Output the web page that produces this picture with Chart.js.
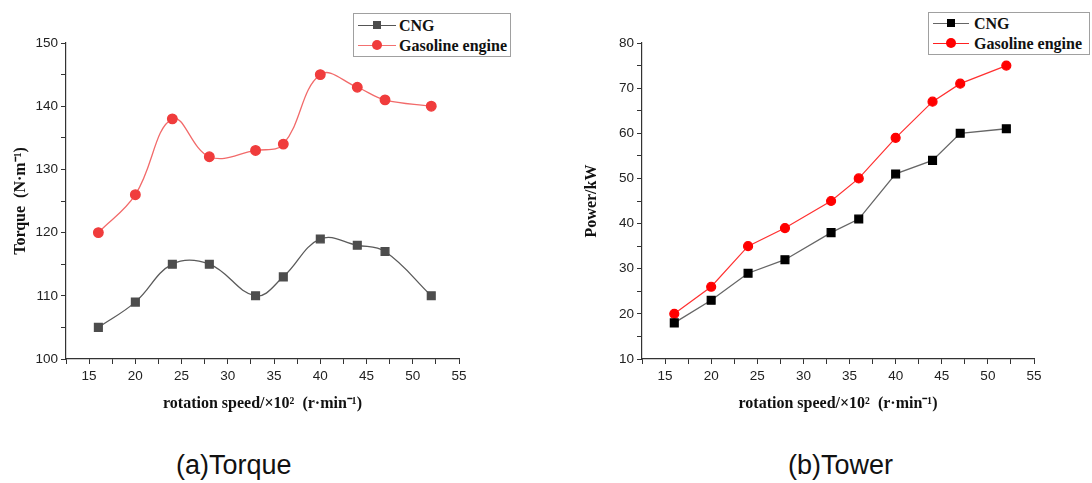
<!DOCTYPE html>
<html>
<head>
<meta charset="utf-8">
<script src="https://cdn.jsdelivr.net/npm/chart.js@4.4.1/dist/chart.umd.min.js"></script>
<style>
    body { margin: 0; background: #fff; width: 1092px; height: 483px; overflow: hidden; position: relative; font-family: "Liberation Sans", Arial, sans-serif; }
    .chart-box { position: absolute; top: 0; height: 420px; }
    .legend { position: absolute; box-sizing: border-box; border: 1px solid #a0a0a0; background: #fff; font-family: "Liberation Serif", "Times New Roman", serif; font-weight: bold; font-size: 16px; color: #111; }
    .legend .row { position: absolute; left: 0; height: 20px; width: 100%; }
    .legend .ln { position: absolute; top: 9px; height: 1px; }
    .legend .mk { position: absolute; }
    .legend .tx { position: absolute; top: 0; line-height: 20px; }
    .caption { position: absolute; top: 450px; font-size: 27px; color: #111; }
</style>
</head>
<body>
<div class="chart-box" style="left:0; width:540px;"><canvas id="torqueChart"></canvas></div>
<div class="chart-box" style="left:560px; width:532px;"><canvas id="powerChart"></canvas></div>

<div class="legend" style="left:353px; top:13px; width:158px; height:44px;">
    <div class="row" style="top:2px;">
        <div class="ln" style="left:4px; width:38px; background:#555;"></div>
        <div class="mk" style="left:19px; top:5px; width:8px; height:8px; background:#4d4d4d;"></div>
        <div class="tx" style="left:45px;">CNG</div>
    </div>
    <div class="row" style="top:22px;">
        <div class="ln" style="left:4px; width:38px; background:#f27070;"></div>
        <div class="mk" style="left:18px; top:4px; width:10px; height:10px; border-radius:50%; background:#f03c3c;"></div>
        <div class="tx" style="left:45px;">Gasoline engine</div>
    </div>
</div>

<div class="legend" style="left:928px; top:12px; width:162px; height:43px;">
    <div class="row" style="top:1px;">
        <div class="ln" style="left:4px; width:36px; background:#666;"></div>
        <div class="mk" style="left:18px; top:5px; width:8px; height:8px; background:#000;"></div>
        <div class="tx" style="left:45px;">CNG</div>
    </div>
    <div class="row" style="top:21px;">
        <div class="ln" style="left:4px; width:36px; background:#ff2020;"></div>
        <div class="mk" style="left:17px; top:4px; width:10px; height:10px; border-radius:50%; background:#ff0000;"></div>
        <div class="tx" style="left:45px;">Gasoline engine</div>
    </div>
</div>

<div class="caption" style="left:176px;">(a)Torque</div>
<div class="caption" style="left:788px;">(b)Tower</div>

<script>
// rotation speed (x10^2 r/min)
const speeds = [16, 20, 24, 28, 33, 36, 40, 44, 47, 52];

// torque (N·m)
const torqueCNG = [105, 109, 115, 115, 110, 113, 119, 118, 117, 110];
const torqueGasoline = [120, 126, 138, 132, 133, 134, 145, 143, 141, 140];

// power (kW)
const powerCNG = [18, 23, 29, 32, 38, 41, 51, 54, 60, 61];
const powerGasoline = [20, 26, 35, 39, 45, 50, 59, 67, 71, 75];

const xTitle = 'rotation speed/×10²  (r·min⁻¹)';

function toPoints(ys) {
    return speeds.map((x, i) => ({ x: x, y: ys[i] }));
}

const tickFont = { family: '"Liberation Sans", Arial, sans-serif', size: 13.5 };
const titleFont = { family: '"Liberation Serif", "Times New Roman", serif', size: 16, weight: 'bold' };

function axisGrid() {
    return { display: true, drawOnChartArea: false, drawTicks: true, tickLength: 5, color: '#333', tickColor: '#333' };
}

function buildOptions(yMin, yMax, yTitle, yWidth, padLeft, padRight) {
    return {
        responsive: true,
        maintainAspectRatio: false,
        animation: false,
        layout: { padding: { left: padLeft, right: padRight, top: 43, bottom: 7 } },
        plugins: { legend: { display: false }, tooltip: { enabled: false } },
        scales: {
            x: {
                type: 'linear',
                min: 12.5,
                max: 55,
                grid: axisGrid(),
                border: { display: true, color: '#333', width: 1.2 },
                ticks: {
                    stepSize: 2.5, autoSkip: false, maxRotation: 0, padding: 4,
                    color: '#222', font: tickFont,
                    callback: v => (v % 5 === 0 ? v : '')
                },
                title: { display: true, text: xTitle, color: '#111', font: titleFont, padding: 0 },
                afterFit: s => { s.height = 54; }
            },
            y: {
                min: yMin,
                max: yMax,
                grid: axisGrid(),
                border: { display: true, color: '#333', width: 1.2 },
                ticks: {
                    stepSize: 5, autoSkip: false, padding: 3,
                    color: '#222', font: tickFont,
                    callback: v => (v % 10 === 0 ? v : '')
                },
                title: { display: true, text: yTitle, color: '#111', font: titleFont, padding: 0 },
                afterFit: s => { s.width = yWidth; }
            }
        }
    };
}

// (a) Torque
new Chart(document.getElementById('torqueChart').getContext('2d'), {
    type: 'line',
    data: {
        datasets: [{
            label: 'CNG',
            data: toPoints(torqueCNG),
            borderColor: '#5a5a5a',
            borderWidth: 1.3,
            backgroundColor: '#4d4d4d',
            pointBackgroundColor: '#4d4d4d',
            pointBorderColor: '#4d4d4d',
            pointStyle: 'rect',
            pointRadius: 5.5,
            tension: 0.4
        }, {
            label: 'Gasoline engine',
            data: toPoints(torqueGasoline),
            borderColor: '#f26a6a',
            borderWidth: 1.3,
            backgroundColor: '#f03c3c',
            pointBackgroundColor: '#f03c3c',
            pointBorderColor: '#f03c3c',
            pointStyle: 'circle',
            pointRadius: 4.8,
            tension: 0.4
        }]
    },
    options: buildOptions(100, 150, 'Torque  (N·m⁻¹)', 55, 11, 81)
});

// (b) Power
new Chart(document.getElementById('powerChart').getContext('2d'), {
    type: 'line',
    data: {
        datasets: [{
            label: 'CNG',
            data: toPoints(powerCNG),
            borderColor: '#666',
            borderWidth: 1.3,
            backgroundColor: '#000',
            pointBackgroundColor: '#000',
            pointBorderColor: '#000',
            pointStyle: 'rect',
            pointRadius: 5.5,
            tension: 0
        }, {
            label: 'Gasoline engine',
            data: toPoints(powerGasoline),
            borderColor: '#ff3030',
            borderWidth: 1.2,
            backgroundColor: '#ff0000',
            pointBackgroundColor: '#ff0000',
            pointBorderColor: '#ff0000',
            pointStyle: 'circle',
            pointRadius: 4.5,
            tension: 0
        }]
    },
    options: buildOptions(10, 80, 'Power/kW', 60, 22, 58)
});
</script>
</body>
</html>
